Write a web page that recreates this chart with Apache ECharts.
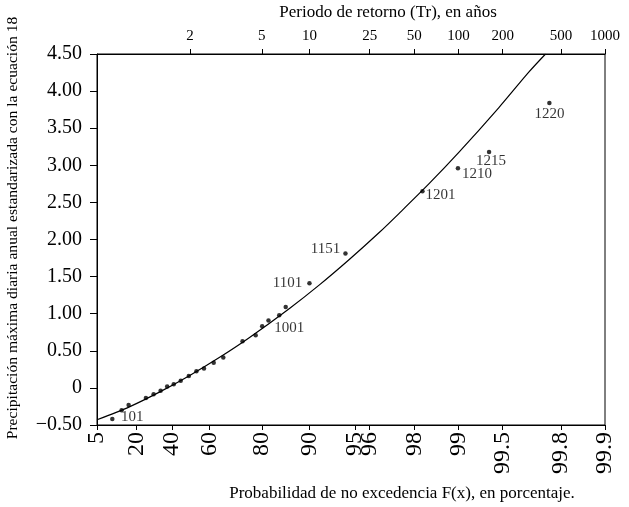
<!DOCTYPE html>
<html>
<head>
<meta charset="utf-8">
<script src="https://cdn.jsdelivr.net/npm/echarts@6/dist/echarts.min.js"></script>
<style>html,body{margin:0;padding:0;background:#fff}#c{width:629px;height:507px}</style>
</head>
<body>
<div id="c"></div>
<script>
// Bottom axis: probability of non-exceedance (percent), Gumbel paper
const probTicks = [5, 20, 40, 60, 80, 90, 95, 96, 98, 99, 99.5, 99.8, 99.9];
// Top axis: return period (years)
const periodTicks = [2, 5, 10, 25, 50, 100, 200, 500, 1000];
// Left axis tick labels
const valueTicks = [-0.5, 0, 0.5, 1, 1.5, 2, 2.5, 3, 3.5, 4, 4.5];

// Observed points: F(x) in percent, standardized value, label
const obsProb = [9.5, 13.1, 16.2, 25.0, 29.3, 33.3, 37.1, 40.9, 44.9, 49.4, 53.5, 57.4, 62.1, 66.4, 73.9, 78.2, 80.1, 81.8, 84.4, 85.8, 90.0, 94.2, 98.24, 98.99, 99.38, 99.76];
const obsValue = [-0.42, -0.30, -0.23, -0.135, -0.085, -0.04, 0.02, 0.05, 0.095, 0.16, 0.225, 0.26, 0.34, 0.41, 0.63, 0.71, 0.83, 0.91, 0.98, 1.09, 1.41, 1.81, 2.65, 2.96, 3.18, 3.84];
const obsLabel = ['101', '', '', '', '', '', '', '', '', '', '', '', '', '', '', '', '', '', '1001', '', '1101', '1151', '1201', '1210', '1215', '1220'];

// Fitted curve
const curveProb = [5, 16.81, 32.86, 49.92, 64.82, 76.29, 86.56, 91.39, 94.53, 96.55, 97.47, 98.413, 99.007, 99.469, 99.668, 99.745];
const curveValue = [-0.43, -0.252, -0.054, 0.168, 0.412, 0.679, 1.07, 1.388, 1.73, 2.094, 2.353, 2.752, 3.177, 3.778, 4.255, 4.5];

const FONT = '"Liberation Serif", "DejaVu Serif", serif';
const gumbel = p => -Math.log(-Math.log(p / 100));
const xMin = gumbel(probTicks[0]);
const xMax = gumbel(probTicks[probTicks.length - 1]);
const probPos = probTicks.map(gumbel);
const periodPos = periodTicks.map(T => gumbel(100 * (1 - 1 / T)));
const findLabel = (v, pos, labels) => {
  for (let i = 0; i < pos.length; i++) if (Math.abs(pos[i] - v) < 1e-6) return String(labels[i]);
  return '';
};

// label placement (style only)
const labelOffsets = {
  '101': [20, -2], '1001': [10, 13], '1101': [-22, 0], '1151': [-20, -5],
  '1201': [18, 4], '1210': [19, 6], '1215': [2, 9], '1220': [0, 11]
};

const scatterData = obsProb.map((p, i) => {
  const item = { value: [gumbel(p), obsValue[i]] };
  const name = obsLabel[i];
  if (name) {
    item.label = {
      show: true, position: 'inside', formatter: name, offset: labelOffsets[name],
      color: '#000', fontFamily: FONT, fontSize: 15
    };
  }
  return item;
});
const curveData = curveProb.map((p, i) => [gumbel(p), curveValue[i]]);

const chart = echarts.init(document.getElementById('c'), null, { renderer: 'canvas' });
chart.setOption({
  animation: false,
  backgroundColor: '#fff',
  grid: { left: 97, right: 24, top: 54, bottom: 82, show: true, borderColor: '#000', borderWidth: 1 },
  xAxis: [
    {
      type: 'value', position: 'bottom', min: xMin, max: xMax,
      axisLine: { show: true, onZero: false, lineStyle: { color: '#000', width: 1 } },
      axisTick: { show: true, customValues: probPos, length: 5, lineStyle: { color: '#000' } },
      axisLabel: {
        show: true, customValues: probPos, rotate: 90, margin: 7,
        formatter: v => findLabel(v, probPos, probTicks),
        color: '#000', fontFamily: FONT, fontSize: 24, showMinLabel: true, showMaxLabel: true
      },
      splitLine: { show: false }
    },
    {
      type: 'value', position: 'top', min: xMin, max: xMax,
      axisLine: { show: true, onZero: false, lineStyle: { color: '#000', width: 1 } },
      axisTick: { show: true, customValues: periodPos, length: 5, lineStyle: { color: '#000' } },
      axisLabel: {
        show: true, customValues: periodPos, margin: 10,
        formatter: v => findLabel(v, periodPos, periodTicks),
        color: '#000', fontFamily: FONT, fontSize: 15, showMinLabel: true, showMaxLabel: true
      },
      splitLine: { show: false }
    }
  ],
  yAxis: {
    type: 'value', min: -0.5, max: 4.5, interval: 0.5,
    axisLine: { show: true, onZero: false, lineStyle: { color: '#000', width: 1 } },
    axisTick: { show: true, length: 7, lineStyle: { color: '#000' } },
    axisLabel: {
      margin: 15, color: '#000', fontFamily: FONT, fontSize: 20,
      formatter: v => {
        const idx = valueTicks.findIndex(t => Math.abs(t - v) < 1e-9);
        const t = idx >= 0 ? valueTicks[idx] : v;
        if (t === 0) return '0';
        return (t < 0 ? '\u2212' : '') + Math.abs(t).toFixed(2);
      }
    },
    splitLine: { show: false }
  },
  graphic: [
    { type: 'text', x: 388, y: 13, style: { text: 'Periodo de retorno (Tr), en años', fill: '#000', font: '17px ' + FONT, textAlign: 'center', textVerticalAlign: 'middle' } },
    { type: 'text', x: 402, y: 494, style: { text: 'Probabilidad de no excedencia F(x), en porcentaje.', fill: '#000', font: '17px ' + FONT, textAlign: 'center', textVerticalAlign: 'middle' } },
    { type: 'text', x: 13, y: 228, rotation: Math.PI / 2, style: { text: 'Precipitación máxima diaria anual estandarizada con la ecuación 18', fill: '#000', font: '15.6px ' + FONT, textAlign: 'center', textVerticalAlign: 'middle' } }
  ],
  series: [
    {
      type: 'line', xAxisIndex: 0, data: curveData, smooth: 0.3, symbol: 'none', clip: true,
      lineStyle: { color: '#000', width: 1.2 }, z: 2
    },
    {
      type: 'scatter', xAxisIndex: 0, data: scatterData, symbol: 'circle', symbolSize: 4.5,
      itemStyle: { color: '#000' }, z: 3
    }
  ]
});
</script>
</body>
</html>
